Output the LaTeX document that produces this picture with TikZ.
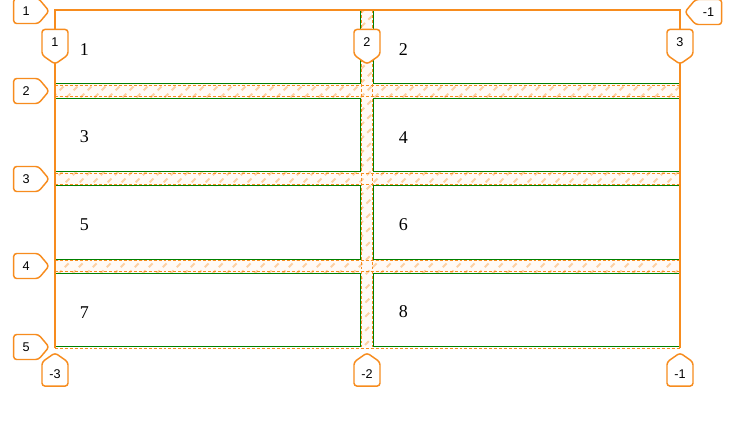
\documentclass[tikz,border=0pt]{standalone}
\usepackage{fontspec}
\setmainfont{Liberation Serif}
\newfontfamily\labelfont{Liberation Sans}
\usetikzlibrary{shapes.symbols,positioning}
\definecolor{gOrange}{RGB}{247,140,30}
\definecolor{gGreen}{RGB}{0,128,0}
\tikzset{
    cell/.style={rectangle, draw=gGreen, line width=0.75pt, minimum height=55pt, text width=191.8pt, text height=12pt, inner xsep=18.75pt, inner ysep=0pt, align=left, font=\fontsize{13.5}{15}\selectfont},
    lab/.style={signal, draw=gOrange, fill=white, line width=1.1pt, rounded corners=2.2pt, inner sep=0pt, font=\labelfont\fontsize{9.5}{10}\selectfont},
    rowlab/.style={lab, signal to=east, signal pointer angle=100, minimum width=26.5pt, minimum height=18.75pt, anchor=east},
    rowneg/.style={lab, signal to=west, signal pointer angle=100, minimum width=27.5pt, minimum height=18.75pt, anchor=west},
    toplab/.style={lab, signal to=south, signal pointer angle=110, minimum width=19.5pt, minimum height=21pt, anchor=south},
    botlab/.style={lab, signal to=north, signal pointer angle=110, minimum width=19.5pt, minimum height=21pt, anchor=north},
    hatch/.style={gOrange!40, line width=1.4pt, dash pattern=on 4pt off 3.5pt},
    gapline/.style={gOrange, line width=0.75pt, dash pattern=on 2.2pt off 1.5pt},
    outer/.style={gOrange, line width=1.1pt}
}
\begin{document}
\begin{tikzpicture}[x=0.75pt,y=-0.75pt]
\fill[white] (0,0) rectangle (744,425);
\useasboundingbox (0,0) rectangle (744,425);
\begin{scope}
\clip (55,84) rectangle (680,98) (55,172) rectangle (680,186) (55,259) rectangle (680,273) (360.5,10) rectangle (373.5,347);
\fill[gOrange!4] (0,0) rectangle (744,425);
\foreach \k in {-300,-286,...,700}
    \draw[hatch] (\k,352) -- ++(360,-360);
\end{scope}
\node[cell] (c1) at (207.75, 47) {1};
\node[cell] (c2) at (526.75, 47) {2};
\node[cell] (c3) at (207.75,135) {3};
\node[cell] (c4) at (526.75,135) {4};
\node[cell] (c5) at (207.75,222.5) {5};
\node[cell] (c6) at (526.75,222.5) {6};
\node[cell] (c7) at (207.75,310) {7};
\node[cell] (c8) at (526.75,310) {8};
\foreach \y in {85.3,96.7,173.3,184.7,260.3,271.7}
    \draw[gapline] (55,\y) -- (680,\y);
\draw[gapline] (361.8,10) -- (361.8,347);
\draw[gapline] (372.2,10) -- (372.2,347);
\draw[gapline] (55,348.5) -- (680,348.5);
\draw[outer] (55,348) -- (55,10) -- (680,10) -- (680,348);
\node[rowlab] (r1) at (50, 11) {1};
\node[rowlab] (r2) at (50, 91) {2};
\node[rowlab] (r3) at (50,179) {3};
\node[rowlab] (r4) at (50,266) {4};
\node[rowlab] (r5) at (50,347) {5};
\node[rowneg] (rn) at (684, 12) {-1};
\node[toplab] (t1) at ( 55,65) {1};
\node[toplab] (t2) at (367,65) {2};
\node[toplab] (t3) at (680,65) {3};
\node[botlab] (b1) at ( 55,352) {-3};
\node[botlab] (b2) at (367,352) {-2};
\node[botlab] (b3) at (680,352) {-1};
\end{tikzpicture}
\end{document}
